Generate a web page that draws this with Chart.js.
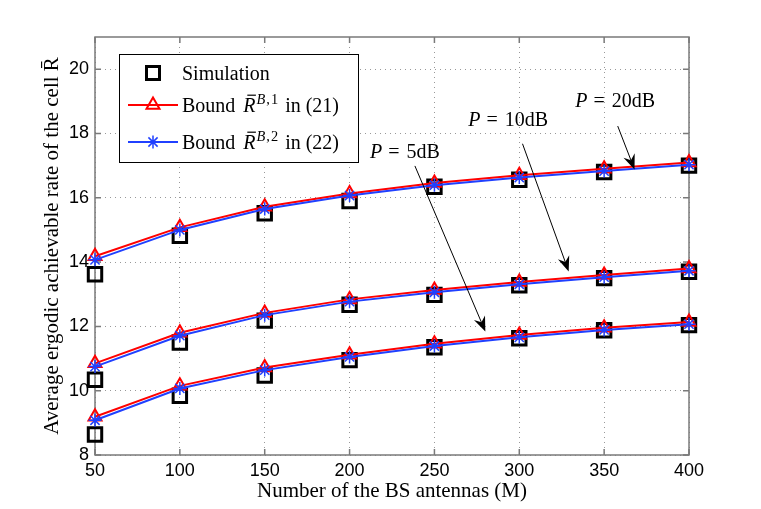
<!DOCTYPE html>
<html>
<head>
<meta charset="utf-8">
<script src="https://cdn.jsdelivr.net/npm/chart.js@4.4.0/dist/chart.umd.min.js"></script>
<style>
  html, body { margin: 0; padding: 0; background: #fff; }
</style>
</head>
<body>
<canvas id="chart" width="761" height="509"></canvas>
<script>
// number of BS antennas M
const antennas = [50, 100, 150, 200, 250, 300, 350, 400];

// P = 20dB
const sim20    = [13.62, 14.82, 15.52, 15.90, 16.34, 16.56, 16.80, 17.00];
const bound1_20 = [14.18, 15.08, 15.72, 16.13, 16.46, 16.70, 16.90, 17.10];
const bound2_20 = [14.07, 15.00, 15.65, 16.07, 16.39, 16.63, 16.83, 17.03];

// P = 10dB
const sim10    = [10.34, 11.50, 12.18, 12.67, 12.98, 13.28, 13.50, 13.70];
const bound1_10 = [10.85, 11.80, 12.42, 12.84, 13.13, 13.38, 13.60, 13.80];
const bound2_10 = [10.75, 11.71, 12.35, 12.77, 13.06, 13.31, 13.53, 13.73];

// P = 5dB
const sim5     = [8.64, 9.84, 10.47, 10.95, 11.35, 11.63, 11.88, 12.04];
const bound1_5 = [9.19, 10.15, 10.72, 11.12, 11.46, 11.73, 11.96, 12.14];
const bound2_5 = [9.08, 10.07, 10.64, 11.05, 11.39, 11.66, 11.89, 12.07];

const xTicks = [50, 100, 150, 200, 250, 300, 350, 400];
const yTicks = [8, 10, 12, 14, 16, 18, 20];

// power labels with arrows (data coordinates)
const powerLabels = ['20dB', '10dB', '5dB'];
const labelAt   = [[333, 19.03], [270, 18.44], [212, 17.44]];
const arrowFrom = [[358, 18.23], [301.9, 17.68], [238.5, 16.99]];
const arrowTo   = [[367.9, 16.88], [329.1, 13.71], [280, 11.84]];

const RED = '#ff0000';
const BLUE = '#2040ff';
const SERIF = '"Liberation Serif", "Times New Roman", serif';
const SANS = '"Liberation Sans", Arial, sans-serif';

const pts = (ys) => ys.map((y, i) => ({ x: antennas[i], y: y }));

function simSet(ys) {
  return {
    data: pts(ys), showLine: false, order: 3,
    borderColor: '#000', backgroundColor: 'rgba(0,0,0,0)',
    pointStyle: 'rect', pointRadius: 9.5, pointBorderWidth: 3
  };
}
function bound1Set(ys) {
  return {
    data: pts(ys), order: 2, borderColor: RED, borderWidth: 2,
    pointStyle: 'triangle', pointRadius: 7.5, pointBorderWidth: 2,
    pointBorderColor: RED, pointBackgroundColor: 'rgba(0,0,0,0)'
  };
}
function bound2Set(ys) {
  return {
    data: pts(ys), order: 1, borderColor: BLUE, borderWidth: 2,
    pointStyle: 'star', pointRadius: 6.5, pointBorderWidth: 1.5,
    pointBorderColor: BLUE, pointBackgroundColor: BLUE
  };
}

// draws text runs: [{t, italic, sup, bar}]
function drawRich(ctx, x, y, parts, size) {
  ctx.textAlign = 'left';
  ctx.textBaseline = 'alphabetic';
  parts.forEach(p => {
    const s = p.sup ? size * 0.72 : size;
    ctx.font = (p.italic ? 'italic ' : '') + s + 'px ' + SERIF;
    const w = ctx.measureText(p.t).width + (p.gap || 0);
    const yy = p.sup ? y - size * 0.42 : y;
    ctx.fillText(p.t, x, yy);
    if (p.bar) {
      ctx.save();
      ctx.lineWidth = 1.2;
      ctx.strokeStyle = '#000';
      ctx.beginPath();
      ctx.moveTo(x + w * 0.3, yy - size * 0.84);
      ctx.lineTo(x + w * 0.95, yy - size * 0.84);
      ctx.stroke();
      ctx.restore();
    }
    x += w;
  });
  return x;
}

function arrow(ctx, x1, y1, x2, y2) {
  const a = Math.atan2(y2 - y1, x2 - x1);
  const L = 15, W = 6, N = 10;
  ctx.beginPath();
  ctx.moveTo(x1, y1);
  ctx.lineTo(x2 - Math.cos(a) * N, y2 - Math.sin(a) * N);
  ctx.stroke();
  const bx = x2 - Math.cos(a) * L, by = y2 - Math.sin(a) * L;
  const nx = x2 - Math.cos(a) * N, ny = y2 - Math.sin(a) * N;
  ctx.beginPath();
  ctx.moveTo(x2, y2);
  ctx.lineTo(bx + Math.sin(a) * W, by - Math.cos(a) * W);
  ctx.lineTo(nx, ny);
  ctx.lineTo(bx - Math.sin(a) * W, by + Math.cos(a) * W);
  ctx.closePath();
  ctx.fill();
}

const decorations = {
  id: 'decorations',
  beforeDatasetsDraw(chart) {
    const { ctx, chartArea: a, scales } = chart;
    ctx.save();
    ctx.strokeStyle = '#7a7a7a';
    ctx.lineWidth = 1.5;
    ctx.strokeRect(a.left, a.top, a.right - a.left, a.bottom - a.top);
    ctx.beginPath();
    xTicks.forEach(v => {
      const px = scales.x.getPixelForValue(v);
      ctx.moveTo(px, a.bottom); ctx.lineTo(px, a.bottom - 6);
      ctx.moveTo(px, a.top); ctx.lineTo(px, a.top + 6);
    });
    yTicks.forEach(v => {
      const py = scales.y.getPixelForValue(v);
      ctx.moveTo(a.left, py); ctx.lineTo(a.left + 6, py);
      ctx.moveTo(a.right, py); ctx.lineTo(a.right - 6, py);
    });
    ctx.stroke();
    ctx.restore();
  },
  afterDatasetsDraw(chart) {
    const { ctx, chartArea: a, scales } = chart;
    const sx = scales.x, sy = scales.y;
    ctx.save();

    // arrows and power labels
    ctx.strokeStyle = '#000';
    ctx.fillStyle = '#000';
    ctx.lineWidth = 1;
    powerLabels.forEach((lab, i) => {
      arrow(ctx,
        sx.getPixelForValue(arrowFrom[i][0]), sy.getPixelForValue(arrowFrom[i][1]),
        sx.getPixelForValue(arrowTo[i][0]), sy.getPixelForValue(arrowTo[i][1]));
      drawRich(ctx, sx.getPixelForValue(labelAt[i][0]), sy.getPixelForValue(labelAt[i][1]) + 7,
        [{ t: 'P', italic: true, gap: 1 }, { t: ' = ', gap: 2 }, { t: lab }], 20);
    });

    // legend box
    const lx = a.left + 24, ly = a.top + 17, lw = 239, lh = 108;
    ctx.fillStyle = '#fff';
    ctx.fillRect(lx, ly, lw, lh);
    ctx.strokeStyle = '#000';
    ctx.lineWidth = 1;
    ctx.strokeRect(lx + 0.5, ly + 0.5, lw, lh);

    const mx = lx + 34, tx = lx + 63;
    const rows = [ly + 19, ly + 51, ly + 88];

    // simulation marker
    ctx.lineWidth = 3;
    ctx.strokeStyle = '#000';
    ctx.strokeRect(mx - 6.5, rows[0] - 6.5, 13, 13);

    // bound 1
    ctx.lineWidth = 2;
    ctx.strokeStyle = RED;
    ctx.beginPath();
    ctx.moveTo(lx + 9, rows[1]); ctx.lineTo(lx + 59, rows[1]);
    ctx.stroke();
    ctx.beginPath();
    ctx.moveTo(mx, rows[1] - 7.5);
    ctx.lineTo(mx + 6.5, rows[1] + 3.75);
    ctx.lineTo(mx - 6.5, rows[1] + 3.75);
    ctx.closePath();
    ctx.stroke();

    // bound 2
    ctx.strokeStyle = BLUE;
    ctx.beginPath();
    ctx.moveTo(lx + 9, rows[2]); ctx.lineTo(lx + 59, rows[2]);
    ctx.stroke();
    ctx.lineWidth = 1.5;
    ctx.beginPath();
    for (let k = 0; k < 4; k++) {
      const ang = k * Math.PI / 4;
      ctx.moveTo(mx + Math.cos(ang) * 6.5, rows[2] + Math.sin(ang) * 6.5);
      ctx.lineTo(mx - Math.cos(ang) * 6.5, rows[2] - Math.sin(ang) * 6.5);
    }
    ctx.stroke();

    ctx.fillStyle = '#000';
    drawRich(ctx, tx, rows[0] + 7, [{ t: 'Simulation' }], 20);
    drawRich(ctx, tx, rows[1] + 7, [
      { t: 'Bound ', gap: 3 }, { t: 'R', italic: true, bar: true, gap: 1 },
      { t: 'B', italic: true, sup: true, gap: 1 }, { t: ',', sup: true, gap: 1 }, { t: '1', sup: true, gap: 2 },
      { t: ' in (21)' }], 20);
    drawRich(ctx, tx, rows[2] + 7, [
      { t: 'Bound ', gap: 3 }, { t: 'R', italic: true, bar: true, gap: 1 },
      { t: 'B', italic: true, sup: true, gap: 1 }, { t: ',', sup: true, gap: 1 }, { t: '2', sup: true, gap: 2 },
      { t: ' in (22)' }], 20);

    ctx.restore();
  }
};

new Chart(document.getElementById('chart'), {
  type: 'line',
  data: {
    datasets: [
      bound2Set(bound2_20), bound1Set(bound1_20), simSet(sim20),
      bound2Set(bound2_10), bound1Set(bound1_10), simSet(sim10),
      bound2Set(bound2_5), bound1Set(bound1_5), simSet(sim5)
    ]
  },
  options: {
    responsive: false,
    animation: false,
    devicePixelRatio: 1,
    layout: { padding: { top: 37, right: 72, left: 0, bottom: 0 } },
    elements: { line: { tension: 0 } },
    datasets: { line: { clip: false } },
    plugins: { legend: { display: false }, tooltip: { enabled: false } },
    scales: {
      x: {
        type: 'linear', min: 50, max: 400,
        afterBuildTicks: (s) => { s.ticks = xTicks.map(v => ({ value: v })); },
        afterFit: (s) => { s.height = 54; },
        grid: { color: '#999', lineWidth: 1, drawTicks: false },
        border: { display: false, dash: [1, 4] },
        ticks: { color: '#000', padding: 5, maxRotation: 0, font: { family: SANS, size: 18 } },
        title: {
          display: true, text: 'Number of the BS antennas (M)', color: '#000',
          font: { family: SERIF, size: 21 }, padding: { top: 0, bottom: 5 }
        }
      },
      y: {
        type: 'linear', min: 8, max: 21,
        afterBuildTicks: (s) => { s.ticks = yTicks.map(v => ({ value: v })); },
        afterFit: (s) => { s.width = 95; },
        grid: { color: '#999', lineWidth: 1, drawTicks: false },
        border: { display: false, dash: [1, 4] },
        ticks: { color: '#000', padding: 6, font: { family: SANS, size: 18 } },
        title: {
          display: true, text: 'Average ergodic achievable rate of the cell R\u0304', color: '#000',
          font: { family: SERIF, size: 21 }, padding: { top: 40, bottom: 0 }
        }
      }
    }
  },
  plugins: [decorations]
});
</script>
</body>
</html>
